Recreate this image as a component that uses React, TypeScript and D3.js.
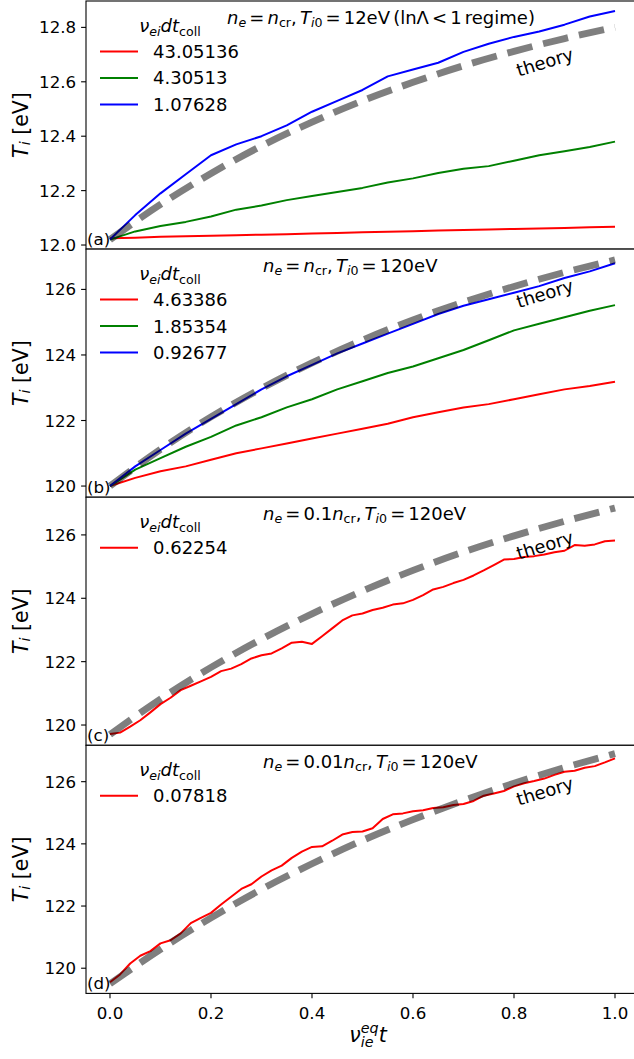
import React from "react";
import * as d3 from "d3";

// x grids (nu_ie^eq t)
const xTheory = [0, 0.1, 0.2, 0.3, 0.4, 0.5, 0.6, 0.7, 0.8, 0.9, 1.0];
const xCoarse = [0, 0.05, 0.1, 0.15, 0.2, 0.25, 0.3, 0.35, 0.4, 0.45, 0.5, 0.55, 0.6, 0.65, 0.7, 0.75, 0.8, 0.85, 0.9, 0.95, 1.0];
const xFine = [
  0, 0.02, 0.04, 0.06, 0.08, 0.1, 0.12, 0.14, 0.16, 0.18, 0.2, 0.22, 0.24, 0.26, 0.28, 0.3, 0.32, 0.34, 0.36, 0.38,
  0.4, 0.42, 0.44, 0.46, 0.48, 0.5, 0.52, 0.54, 0.56, 0.58, 0.6, 0.62, 0.64, 0.66, 0.68, 0.7, 0.72, 0.74, 0.76, 0.78,
  0.8, 0.82, 0.84, 0.86, 0.88, 0.9, 0.92, 0.94, 0.96, 0.98, 1.0,
];

// theory curves
const theoryA = [12.02, 12.149, 12.263, 12.364, 12.452, 12.53, 12.598, 12.659, 12.712, 12.759, 12.8];
const theoryB = [120.0, 121.12, 122.11, 122.98, 123.76, 124.45, 125.07, 125.61, 126.09, 126.52, 126.9];
const theoryC = [119.7, 120.82, 121.82, 122.71, 123.51, 124.23, 124.88, 125.46, 125.97, 126.43, 126.85];
const theoryD = [119.5, 120.61, 121.62, 122.54, 123.36, 124.11, 124.78, 125.39, 125.95, 126.45, 126.9];

// panel (a): n_e = n_cr, T_i0 = 12 eV
const labelsA = ["43.05136", "4.30513", "1.07628"];
const redA = [12.025, 12.027, 12.03, 12.032, 12.034, 12.036, 12.038, 12.04, 12.042, 12.044, 12.047, 12.049, 12.051, 12.053, 12.055, 12.057, 12.059, 12.061, 12.063, 12.065, 12.067];
const greenA = [12.02, 12.05, 12.07, 12.085, 12.105, 12.13, 12.145, 12.165, 12.18, 12.195, 12.21, 12.23, 12.245, 12.265, 12.28, 12.29, 12.31, 12.33, 12.345, 12.36, 12.38];
const blueA = [12.02, 12.11, 12.19, 12.26, 12.33, 12.37, 12.4, 12.44, 12.49, 12.53, 12.57, 12.62, 12.645, 12.67, 12.71, 12.74, 12.765, 12.785, 12.81, 12.84, 12.86];

// panel (b): n_e = n_cr, T_i0 = 120 eV
const labelsB = ["4.63386", "1.85354", "0.92677"];
const redB = [120.0, 120.25, 120.45, 120.6, 120.8, 121.0, 121.15, 121.3, 121.45, 121.6, 121.75, 121.9, 122.1, 122.25, 122.4, 122.5, 122.65, 122.8, 122.95, 123.05, 123.18];
const greenB = [120.0, 120.5, 120.85, 121.2, 121.5, 121.85, 122.1, 122.4, 122.65, 122.95, 123.2, 123.45, 123.65, 123.9, 124.15, 124.45, 124.75, 124.95, 125.15, 125.35, 125.52];
const blueB = [120.0, 120.6, 121.1, 121.6, 122.05, 122.5, 122.95, 123.35, 123.7, 124.05, 124.35, 124.65, 124.95, 125.25, 125.5, 125.7, 125.9, 126.1, 126.35, 126.55, 126.8];

// panel (c): n_e = 0.1 n_cr
const labelsC = ["0.62254"];
const redC = [
  119.72, 119.76, 119.95, 120.15, 120.4, 120.66, 120.86, 121.1, 121.24, 121.38, 121.52, 121.7, 121.78, 121.92, 122.1,
  122.2, 122.26, 122.42, 122.6, 122.63, 122.56, 122.8, 123.05, 123.3, 123.46, 123.52, 123.63, 123.7, 123.8, 123.84,
  123.95, 124.1, 124.28, 124.36, 124.48, 124.58, 124.72, 124.88, 125.05, 125.22, 125.24, 125.3, 125.33, 125.38, 125.45,
  125.5, 125.68, 125.66, 125.7, 125.8, 125.82,
];

// panel (d): n_e = 0.01 n_cr
const labelsD = ["0.07818"];
const redD = [
  119.55, 119.8, 120.15, 120.4, 120.55, 120.8, 120.9, 121.12, 121.45, 121.62, 121.78, 122.05, 122.3, 122.55, 122.7,
  122.95, 123.15, 123.3, 123.55, 123.75, 123.9, 123.92, 124.1, 124.3, 124.38, 124.4, 124.5, 124.8, 124.95, 124.98,
  125.05, 125.08, 125.15, 125.18, 125.25, 125.28, 125.38, 125.55, 125.62, 125.7, 125.85, 125.95, 126.02, 126.1, 126.22,
  126.32, 126.35, 126.45, 126.5, 126.62, 126.75,
];

const ticksA = [12.0, 12.2, 12.4, 12.6, 12.8];
const ticksB = [120, 122, 124, 126];
const xTicks = [0, 0.2, 0.4, 0.6, 0.8, 1.0];

const W = 634;
const H = 1059;
const left = 86;
const right = 640;
const panelH = 248.1;
const FONT = "DejaVu Sans";
const BIG = 18;
const SUB = 12.6;
const TICK = 16.67;

const x = d3.scaleLinear().domain([-0.0475, 1.0495]).range([left, right]);

const zip = (xs: number[], ys: number[]) => xs.map((v, i) => [v, ys[i]] as [number, number]);

const Sub = ({ children, italic = false, size = SUB, shift = 3.5 }: any) => (
  <tspan fontSize={size} fontStyle={italic ? "italic" : "normal"} dy={shift}>
    {children}
  </tspan>
);
const Back = ({ children, italic = false, shift = 3.5 }: any) => (
  <tspan fontStyle={italic ? "italic" : "normal"} dy={-shift}>
    {children}
  </tspan>
);
const I = ({ children }: any) => <tspan fontStyle="italic">{children}</tspan>;

const title = (dens: string, temp: string, extra: string) => (
  <>
    <I>n</I>
    <Sub italic>e</Sub>
    <Back>{" = " + dens}</Back>
    <I>n</I>
    <Sub>cr</Sub>
    <Back>{", "}</Back>
    <I>T</I>
    <Sub italic>i</Sub>
    <tspan fontSize={SUB}>0</tspan>
    <Back>{" = " + temp + "eV" + extra}</Back>
  </>
);

const panels = [
  {
    top: 1,
    domain: [11.985, 12.897],
    ticks: ticksA,
    fmt: d3.format(".1f"),
    series: [
      { xs: xCoarse, ys: redA, color: "#ff0000" },
      { xs: xCoarse, ys: greenA, color: "#008000" },
      { xs: xCoarse, ys: blueA, color: "#0000ff" },
    ],
    labels: labelsA,
    theory: theoryA,
    theoryPos: [0.861, 12.673],
    titleX: 227,
    title: title("", "12", " (lnΛ < 1 regime)"),
    letter: "(a)",
  },
  {
    top: 249.1,
    domain: [119.66, 127.23],
    ticks: ticksB,
    fmt: d3.format("d"),
    series: [
      { xs: xCoarse, ys: redB, color: "#ff0000" },
      { xs: xCoarse, ys: greenB, color: "#008000" },
      { xs: xCoarse, ys: blueB, color: "#0000ff" },
    ],
    labels: labelsB,
    theory: theoryB,
    theoryPos: [0.861, 125.88],
    titleX: 263,
    title: title("", "120", ""),
    letter: "(b)",
  },
  {
    top: 497.2,
    domain: [119.36, 127.19],
    ticks: ticksB,
    fmt: d3.format("d"),
    series: [{ xs: xFine, ys: redC, color: "#ff0000" }],
    labels: labelsC,
    theory: theoryC,
    theoryPos: [0.861, 125.68],
    titleX: 263,
    title: title("0.1", "120", ""),
    letter: "(c)",
  },
  {
    top: 745.3,
    domain: [119.19, 127.17],
    ticks: ticksB,
    fmt: d3.format("d"),
    series: [{ xs: xFine, ys: redD, color: "#ff0000" }],
    labels: labelsD,
    theory: theoryD,
    theoryPos: [0.861, 125.7],
    titleX: 263,
    title: title("0.01", "120", ""),
    letter: "(d)",
  },
];

const Panel = ({ p, last }: any) => {
  const bottom = p.top + panelH;
  const y = d3.scaleLinear().domain(p.domain).range([bottom, p.top]);
  const line = d3
    .line<[number, number]>()
    .x((d) => x(d[0]))
    .y((d) => y(d[1]));
  const theoryPath = d3
    .line<[number, number]>()
    .x((d) => x(d[0]))
    .y((d) => y(d[1]))
    .curve(d3.curveMonotoneX)(zip(xTheory, p.theory));
  const clipId = "clip" + p.letter.replace(/[()]/g, "");
  const legendColors = p.series.map((s: any) => s.color);
  const cy = (p.top + bottom) / 2;
  return (
    <g>
      <rect x={left} y={p.top} width={right - left} height={panelH} fill="#fff" />
      <defs>
        <clipPath id={clipId}>
          <rect x={left} y={p.top} width={right - left} height={panelH} />
        </clipPath>
      </defs>
      <g clipPath={`url(#${clipId})`}>
        {p.series.map((s: any, i: number) => (
          <path
            key={i}
            d={line(zip(s.xs, s.ys)) || ""}
            fill="none"
            stroke={s.color}
            strokeWidth={2}
            strokeLinejoin="round"
          />
        ))}
        <path
          d={theoryPath || ""}
          fill="none"
          stroke="#000"
          strokeOpacity={0.5}
          strokeWidth={6.9}
          strokeDasharray="25.7,11.1"
        />
      </g>
      {/* theory label */}
      <text
        x={x(p.theoryPos[0])}
        y={y(p.theoryPos[1])}
        fontSize={BIG}
        textAnchor="middle"
        dominantBaseline="central"
        transform={`rotate(-17 ${x(p.theoryPos[0])} ${y(p.theoryPos[1])})`}
      >
        theory
      </text>
      {/* title */}
      <text x={p.titleX} y={p.top + 22.5} fontSize={BIG} wordSpacing={-2.6} style={{ whiteSpace: "pre" }}>
        {p.title}
      </text>
      {/* legend */}
      <text x={170} y={p.top + 31} fontSize={BIG} textAnchor="middle">
        <I>ν</I>
        <Sub italic>ei</Sub>
        <Back italic>dt</Back>
        <Sub>coll</Sub>
      </text>
      {p.labels.map((lab: string, i: number) => {
        const ly = p.top + 50.5 + i * 26.5;
        return (
          <g key={lab}>
            <line x1={100} x2={138} y1={ly} y2={ly} stroke={legendColors[i]} strokeWidth={2} />
            <text x={153} y={ly} dy="0.36em" fontSize={BIG}>
              {lab}
            </text>
          </g>
        );
      })}
      {/* panel letter */}
      <text x={left + 1} y={bottom - 4} fontSize={TICK}>
        {p.letter}
      </text>
      {/* y ticks */}
      {p.ticks.map((t: number) => (
        <g key={t}>
          <line x1={left - 4.9} x2={left} y1={y(t)} y2={y(t)} stroke="#000" strokeWidth={1.1} />
          <text x={left - 9.8} y={y(t)} dy="0.36em" textAnchor="end" fontSize={TICK}>
            {p.fmt(t)}
          </text>
        </g>
      ))}
      {/* y label */}
      <text
        x={21}
        y={cy}
        fontSize={20.5}
        textAnchor="middle"
        dominantBaseline="central"
        transform={`rotate(-90 21 ${cy})`}
        style={{ whiteSpace: "pre" }}
      >
        <I>T</I>
        <Sub italic size={14.3} shift={4}>i</Sub>
        <Back shift={4}>{" [eV]"}</Back>
      </text>
      {/* spines */}
      <rect x={left} y={p.top} width={right - left} height={panelH} fill="none" stroke="#000" strokeWidth={1.1} />
      {last &&
        xTicks.map((t) => (
          <g key={t}>
            <line x1={x(t)} x2={x(t)} y1={bottom} y2={bottom + 4.9} stroke="#000" strokeWidth={1.1} />
            <text x={x(t)} y={bottom + 25.5} textAnchor="middle" fontSize={TICK}>
              {d3.format(".1f")(t)}
            </text>
          </g>
        ))}
    </g>
  );
};

export default function App() {
  const mid = (left + right) / 2 + 5;
  return (
    <svg
      width={W}
      height={H}
      viewBox={`0 0 ${W} ${H}`}
      style={{ position: "absolute", left: 0, top: 0, background: "#fff" }}
      fontFamily={FONT}
      fill="#000"
    >
      <rect x={0} y={0} width={W} height={H} fill="#fff" />
      {panels.map((p, i) => (
        <Panel key={i} p={p} last={i === panels.length - 1} />
      ))}
      <text x={mid} y={1042} fontSize={20.5} textAnchor="middle" style={{ whiteSpace: "pre" }}>
        <I>ν</I>
        <tspan fontSize={14.3} fontStyle="italic" dy={5}>
          ie
        </tspan>
        <tspan fontSize={14.3} fontStyle="italic" dx={-12.8} dy={-14}>
          eq
        </tspan>
        <tspan fontStyle="italic" dy={9}>
          t
        </tspan>
      </text>
    </svg>
  );
}
